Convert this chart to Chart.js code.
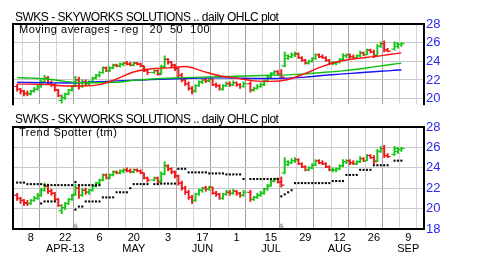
<!DOCTYPE html>
<html lang="en">
<head>
<meta charset="UTF-8" />
<title>SWKS daily OHLC plot</title>
<script src="https://cdn.jsdelivr.net/npm/chart.js"></script>
<style>
  html, body { margin: 0; padding: 0; background: #fff; }
  body {
    width: 480px; height: 274px;
    position: relative; overflow: hidden;
    font-family: "Liberation Sans", Arial, sans-serif;
  }
  canvas { position: absolute; left: 0; }
  #topChart { top: 0; }
  #bottomChart { top: 114px; }
  .lbl { position: absolute; white-space: pre; color: #000; }
  .title { left: 15px; font-size: 12px; line-height: 12px; letter-spacing: -0.5px; }
  .sub { left: 19px; font-size: 11px; line-height: 11px; letter-spacing: 0.5px; }
</style>
</head>
<body>
<canvas id="topChart" width="480" height="114"></canvas>
<canvas id="bottomChart" width="480" height="160"></canvas>
<div class="lbl title" style="top:11px">SWKS - SKYWORKS SOLUTIONS .. daily OHLC plot</div>
<div class="lbl sub" style="top:24px">Moving averages - reg   20  50  100</div>
<div class="lbl title" style="top:113px">SWKS - SKYWORKS SOLUTIONS .. daily OHLC plot</div>
<div class="lbl sub" style="top:127px">Trend Spotter (tm)</div>

<script>
// x = trading-day index counted from Mon Apr 1 2013 (5 per week, holidays left empty)
const firstDay = 1;

const opens = [
  21.3, 21.0, 20.8, 20.6, 20.5, 20.8, 21.0, 21.3, 21.8, 22.2,
  21.7, 21.5, 20.9, 19.8, 20.1, 20.5, 20.9, 21.4, 22.0, 21.3,
  21.8, 21.6, 21.8, 22.2, 22.5, 22.8, 23.3, 23.0, 23.3, 23.6,
  23.5, 23.7, 23.8, 23.7, 23.6, 23.8, 23.7, 23.5, 23.0, null,
  22.8, 23.0, 22.7, 23.4, 24.2, 23.9, 23.6, 23.2, 22.5, 22.0,
  21.6, 21.1, 20.8, 21.4, 21.8, 22.0, 21.9, 22.1, 21.5, 21.4,
  21.0, 21.4, 21.6, 21.5, 21.7, 21.5, 21.3, null, 21.6, 20.9,
  21.1, 21.3, 21.5, 21.9, 22.3, 22.7, 22.9, 22.6, 23.5, 24.3,
  24.5, 24.7, 24.8, 24.4, 24.1, 23.8, 24.0, 24.3, 24.7, 24.5,
  24.4, 24.1, 23.8, 23.8, 23.9, 24.2, 24.6, 24.7, 24.5, 24.4,
  24.6, 24.9, 24.7, 25.2, 25.0, 24.7, 25.6, 25.9, 25.2, null,
  25.3, 25.6, 25.8
];
const highs = [
  21.5, 21.1, 20.9, 20.8, 20.9, 21.2, 21.5, 22.0, 22.5, 22.4,
  21.9, 21.6, 21.0, 20.4, 20.6, 21.0, 21.4, 22.4, 22.3, 22.0,
  22.0, 21.9, 22.3, 22.6, 22.9, 23.4, 23.4, 23.4, 23.7, 23.7,
  23.8, 23.9, 24.0, 23.9, 23.9, 23.9, 23.8, 23.5, 23.1, null,
  23.1, 23.1, 23.6, 24.6, 24.3, 24.0, 23.7, 23.3, 22.7, 22.2,
  21.8, 21.3, 21.5, 21.9, 22.1, 22.2, 22.2, 22.1, 21.7, 21.5,
  21.5, 21.8, 21.8, 21.9, 21.8, 21.6, 21.8, null, 21.8, 21.2,
  21.5, 21.7, 22.0, 22.4, 22.8, 23.0, 23.0, 23.1, 25.0, 24.7,
  24.9, 25.0, 24.9, 24.5, 24.2, 24.1, 24.4, 24.8, 24.8, 24.7,
  24.5, 24.2, 24.0, 24.0, 24.3, 24.8, 24.8, 24.8, 24.7, 24.7,
  25.1, 25.0, 25.3, 25.3, 25.2, 25.8, 26.1, 26.2, 25.4, null,
  26.1, 26.0, 26.0
];
const lows = [
  20.8, 20.5, 20.3, 20.3, 20.4, 20.7, 20.9, 21.2, 21.7, 21.5,
  21.3, 20.8, 20.2, 19.5, 19.9, 20.4, 20.8, 21.3, 21.0, 21.2,
  21.4, 21.4, 21.7, 22.1, 22.3, 22.7, 22.9, 22.9, 23.2, 23.4,
  23.4, 23.5, 23.6, 23.5, 23.5, 23.6, 23.4, 22.9, 22.6, null,
  22.7, 22.5, 22.6, 23.3, 23.7, 23.4, 23.0, 22.3, 21.8, 21.4,
  20.9, 20.5, 20.7, 21.3, 21.6, 21.7, 21.8, 21.4, 21.2, 20.9,
  20.9, 21.3, 21.3, 21.4, 21.3, 21.1, 21.2, null, 20.7, 20.8,
  21.0, 21.2, 21.4, 21.8, 22.2, 22.6, 22.5, 22.1, 23.4, 24.2,
  24.4, 24.5, 24.3, 24.0, 23.7, 23.7, 23.9, 24.2, 24.4, 24.3,
  24.0, 23.7, 23.6, 23.6, 23.8, 24.1, 24.4, 24.3, 24.3, 24.3,
  24.5, 24.6, 24.7, 24.9, 24.4, 24.6, 25.5, 25.0, 25.0, null,
  25.2, 25.4, 25.6
];
const closes = [
  21.0, 20.8, 20.5, 20.5, 20.8, 21.0, 21.3, 21.8, 22.2, 21.7,
  21.5, 20.9, 20.3, 20.1, 20.5, 20.9, 21.3, 22.0, 21.3, 21.8,
  21.6, 21.8, 22.2, 22.5, 22.8, 23.3, 23.0, 23.3, 23.6, 23.5,
  23.7, 23.8, 23.7, 23.6, 23.8, 23.7, 23.5, 23.0, 22.8, null,
  23.0, 22.6, 23.4, 24.2, 23.9, 23.6, 23.2, 22.5, 22.0, 21.6,
  21.1, 20.8, 21.4, 21.8, 22.0, 21.9, 22.1, 21.5, 21.4, 21.0,
  21.4, 21.6, 21.5, 21.7, 21.5, 21.3, 21.6, null, 20.9, 21.1,
  21.3, 21.5, 21.9, 22.2, 22.7, 22.9, 22.6, 22.3, 24.6, 24.5,
  24.7, 24.8, 24.4, 24.1, 23.8, 24.0, 24.3, 24.7, 24.5, 24.4,
  24.1, 23.8, 23.8, 23.9, 24.2, 24.6, 24.7, 24.5, 24.4, 24.6,
  24.9, 24.7, 25.2, 25.0, 24.6, 25.6, 25.9, 25.2, 25.1, null,
  25.9, 25.8, 25.9
];

// moving averages, read once a week
const maDays = [1, 5, 10, 15, 20, 25, 30, 35, 40, 45, 50, 55, 60, 65, 70, 75, 80, 85, 90, 95, 100, 105, 110, 113];
const ma20  = [21.55, 21.55, 21.5, 21.35, 21.35, 21.5, 22.1, 22.85, 23.2, 23.3, 23.45, 22.95, 22.45, 22.2, 21.9, 21.85, 22.05, 22.7, 23.45, 24.0, 24.3, 24.5, 24.75, 24.9];
const ma50  = [22.25, 22.2, 22.1, 21.85, 21.7, 21.7, 21.75, 21.95, 22.1, 22.2, 22.25, 22.3, 22.35, 22.4, 22.45, 22.5, 22.55, 22.65, 22.8, 22.95, 23.15, 23.4, 23.65, 23.8];
const ma100 = [21.75, 21.72, 21.7, 21.68, 21.72, 21.8, 21.9, 21.97, 22.03, 22.1, 22.15, 22.2, 22.22, 22.2, 22.15, 22.15, 22.2, 22.3, 22.48, 22.62, 22.75, 22.88, 23.0, 23.1];

// Trend Spotter dots, same day order as the price arrays
const spotHigh = [
  22.55, 22.55, 22.55, 22.4, 22.4, 22.4, 22.4, 22.4, 22.3, 22.3,
  22.3, 22.3, 22.3, 22.3, 22.3, 22.3, 22.3, 22.6, 22.3, 22.3,
  22.3, 22.3, 22.3, 22.3, 22.3, null, null, null, null, null,
  null, null, null, null, null, null, null, null, null, null,
  null, null, null, null, null, null, null, 23.9, 23.9, 23.9,
  23.55, 23.55, 23.55, 23.55, 23.55, 23.55, 23.45, 23.45, 23.45, 23.45,
  23.45, 23.35, 23.35, 23.35, 23.35, 23.35, 22.9, null, 22.9, 22.9,
  22.9, 22.9, 22.9, 22.9, 22.9, 22.9, 22.9, null, null, null,
  null, null, null, null, null, null, null, null, null, null,
  null, null, null, null, null, null, null, null, null, null,
  null, null, null, null, null, null, null, null, null, null,
  null, null, null
];
const spotLow = [
  null, null, null, null, null, null, null, 20.5, 20.7, 20.7,
  20.7, 20.7, null, null, null, null, null, 19.9, 20.2, 20.2,
  20.7, 20.7, 20.7, 20.7, 20.7, 21.1, 21.1, 21.1, 21.1, 21.6,
  21.6, 21.6, 21.6, 22.0, 22.4, 22.4, 22.4, 22.4, 22.4, null,
  22.4, 22.4, 22.45, 22.45, 22.45, 22.45, 22.45, null, null, null,
  null, null, null, null, null, null, null, null, null, null,
  null, null, null, null, null, null, null, null, null, null,
  null, null, null, null, null, null, null, 21.2, 21.4, 21.6,
  21.8, 22.5, 22.5, 22.5, 22.5, 22.5, 22.5, 22.5, 22.5, 22.5,
  22.5, 22.5, 22.7, 22.7, 22.7, 22.7, 23.3, 23.3, 23.3, 23.3,
  23.8, 23.8, 23.8, 23.8, 24.25, 24.25, 24.25, 24.25, 24.25, null,
  24.7, 24.7, 24.7
];
const signalDays = [18, 78];

// x axis: a grid line every Monday, labels every other Monday
const tickDays  = [5, 15, 25, 35, 45, 55, 65, 75, 85, 95, 105, 115];
const tickDate  = ['8', '22', '6', '20', '3', '17', '1', '15', '29', '12', '26', '9'];
const tickMonth = ['', 'APR-13', '', 'MAY', '', 'JUN', '', 'JUL', '', 'AUG', '', 'SEP'];

const UP = '#16c816';
const DOWN = '#f01818';
const FONT = '"Liberation Sans", Arial, sans-serif';

function ohlcSets() {
  const range = [], openTicks = [], closeTicks = [], cols = [];
  closes.forEach((c, i) => {
    if (c === null) return;
    const day = firstDay + i;
    cols.push(c >= opens[i] ? UP : DOWN);
    range.push({ x: day, y: [lows[i], highs[i]] });
    openTicks.push({ x: day - 0.45, y: opens[i] });
    closeTicks.push({ x: day + 0.45, y: c });
  });
  const tick = data => ({
    type: 'scatter', data, pointStyle: 'line', pointRadius: 1.6,
    pointBorderWidth: 1.2, pointBorderColor: cols, pointBackgroundColor: cols
  });
  return [
    tick(openTicks),
    tick(closeTicks),
    { type: 'bar', data: range, backgroundColor: cols, barThickness: 1.3, borderWidth: 0, grouped: false }
  ];
}

function maLine(values, color) {
  return {
    type: 'line',
    data: maDays.map((d, i) => ({ x: d, y: values[i] })),
    borderColor: color, borderWidth: 1.4, pointRadius: 0,
    tension: 0.4, cubicInterpolationMode: 'monotone', fill: false
  };
}

function dots(values) {
  const pts = [];
  values.forEach((v, i) => { if (v !== null) pts.push({ x: firstDay + i, y: v }); });
  return {
    type: 'scatter', data: pts, pointStyle: 'rect', pointRadius: 1.45,
    pointBorderWidth: 0, pointBackgroundColor: '#000'
  };
}

const framePlugin = {
  id: 'frame',
  afterDraw(chart, args, opts) {
    const { ctx, chartArea: a } = chart;
    ctx.save();
    ctx.strokeStyle = '#000';
    ctx.lineWidth = 2;
    ctx.beginPath();
    ctx.moveTo(a.left, opts.bottom ? a.bottom : a.bottom + 1);
    ctx.lineTo(a.left, a.top);
    ctx.lineTo(a.right, a.top);
    ctx.lineTo(a.right, opts.bottom ? a.bottom : a.bottom + 1);
    if (opts.bottom) ctx.closePath();
    ctx.stroke();
    ctx.restore();
  }
};

function makeChart(id, datasets, yMin, yTicks, showX, padding, xHeight, boxBottom) {
  return new Chart(document.getElementById(id), {
    type: 'bar',
    data: { datasets },
    plugins: [framePlugin],
    options: {
      responsive: false,
      devicePixelRatio: 1,
      animation: false,
      events: [],
      layout: { padding },
      plugins: { legend: { display: false }, tooltip: { enabled: false }, frame: { bottom: boxBottom } },
      scales: {
        x: {
          type: 'linear', min: -0.2, max: 119.6, offset: false,
          afterBuildTicks: ax => { ax.ticks = []; for (let d = 0; d <= 115; d += 5) ax.ticks.push({ value: d }); },
          afterFit: ax => { ax.height = xHeight; },
          grid: {
            color: c => (c.tick && c.tick.value % 10 === 0) ? '#a4a4a4' : '#d4d4d4',
            drawTicks: false
          },
          border: { display: false },
          ticks: {
            display: showX, autoSkip: false, maxRotation: 0, padding: 3,
            color: '#000', font: { family: FONT, size: 11, lineHeight: 1.0 },
            callback: v => {
              const k = tickDays.indexOf(v);
              return k < 0 ? '' : [tickDate[k], tickMonth[k]];
            }
          }
        },
        y: {
          position: 'right', min: yMin, max: 28,
          afterBuildTicks: ax => { ax.ticks = yTicks.map(v => ({ value: v })); },
          afterFit: ax => { ax.width = 56; },
          grid: { color: '#c8c8c8', drawTicks: false },
          border: { display: false },
          ticks: {
            padding: 2, color: '#2a2af0',
            font: { family: FONT, size: 13 },
            callback: v => (v % 2 === 0 ? String(v) : '')
          }
        }
      }
    }
  });
}

const topSets = [maLine(ma20, '#ff1010'), maLine(ma50, '#10c010'), maLine(ma100, '#1818f0')].concat(ohlcSets());
makeChart('topChart', topSets, 19.4, [20, 21, 22, 23, 24, 25, 26, 27, 28], false,
  { left: 13, right: 0, top: 24, bottom: 1 }, 0, false);

const signals = {
  type: 'scatter',
  data: signalDays.map(d => ({ x: d, y: 18.3 })),
  pointStyle: 'triangle', pointRadius: 2.2, pointBorderWidth: 1,
  pointBorderColor: '#7d8da0', pointBackgroundColor: 'rgba(0,0,0,0)'
};
const bottomSets = [dots(spotHigh), dots(spotLow), signals].concat(ohlcSets());
makeChart('bottomChart', bottomSets, 18, [18, 19, 20, 21, 22, 23, 24, 25, 26, 27, 28], true,
  { left: 13, right: 0, top: 13, bottom: 15 }, 30, true);
</script>
</body>
</html>
